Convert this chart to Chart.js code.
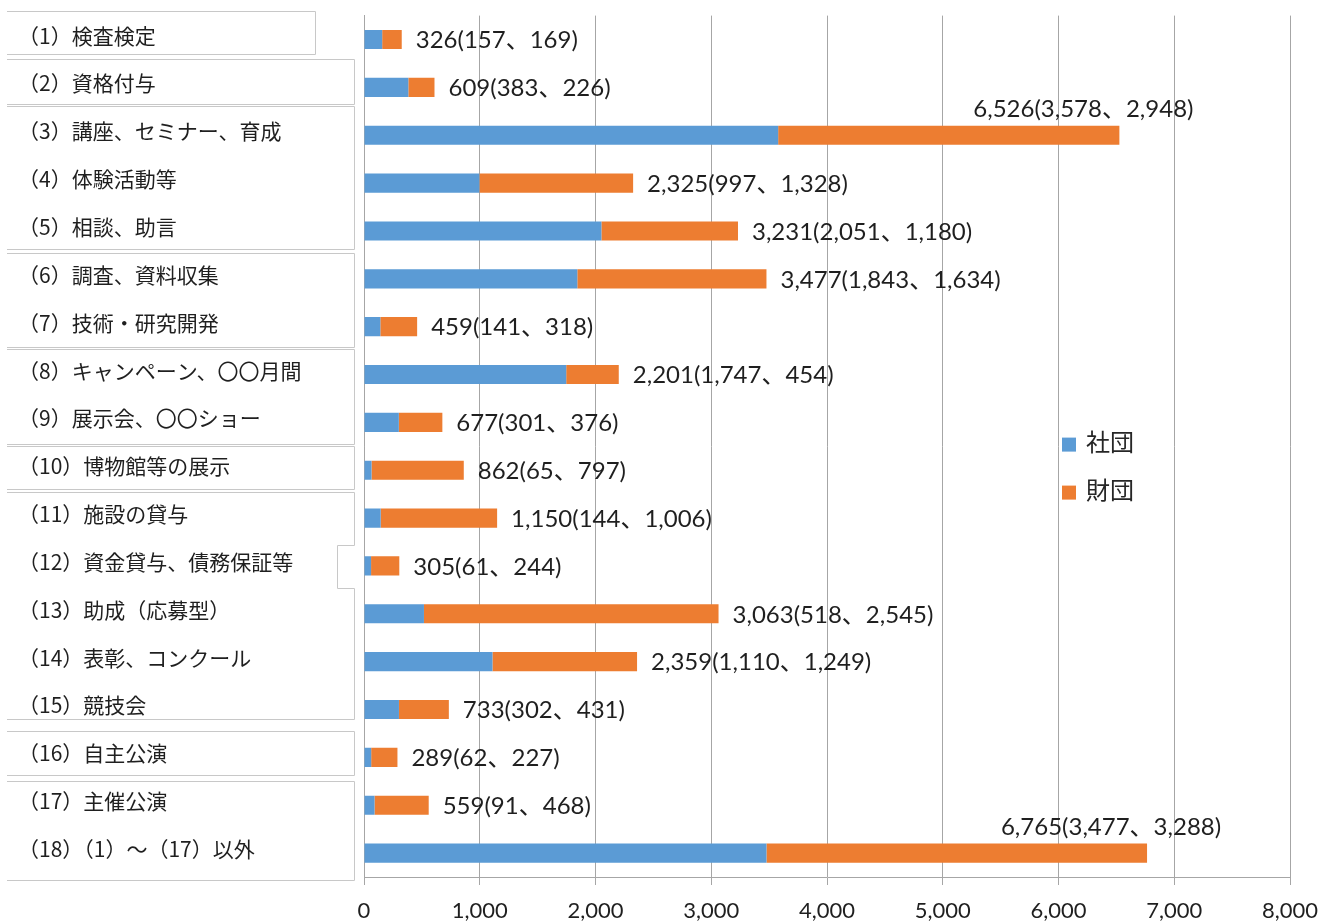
<!DOCTYPE html>
<html lang="ja">
<head>
<meta charset="utf-8">
<title>事業の種類別 公益目的事業数</title>
<script src="https://cdn.jsdelivr.net/npm/chart.js@4.4.1/dist/chart.umd.min.js"></script>
<style>
  html, body { margin: 0; padding: 0; background: #ffffff; }
  #wrap { width: 1334px; height: 924px; position: relative; }
</style>
</head>
<body>
<div id="wrap"><canvas id="chart" width="1334" height="924"></canvas></div>
<script>
// 事業の種類（縦軸の項目）
const categories = [
  '（1）検査検定',
  '（2）資格付与',
  '（3）講座、セミナー、育成',
  '（4）体験活動等',
  '（5）相談、助言',
  '（6）調査、資料収集',
  '（7）技術・研究開発',
  '（8）キャンペーン、〇〇月間',
  '（9）展示会、〇〇ショー',
  '（10）博物館等の展示',
  '（11）施設の貸与',
  '（12）資金貸与、債務保証等',
  '（13）助成（応募型）',
  '（14）表彰、コンクール',
  '（15）競技会',
  '（16）自主公演',
  '（17）主催公演',
  '（18）（1）～（17）以外'
];

// 法人種別ごとの事業数
const seriesNames = ['社団', '財団'];
const shadanValues = [157, 383, 3578, 997, 2051, 1843, 141, 1747, 301, 65, 144, 61, 518, 1110, 302, 62, 91, 3477];
const zaidanValues = [169, 226, 2948, 1328, 1180, 1634, 318, 454, 376, 797, 1006, 244, 2545, 1249, 431, 227, 468, 3288];

// 横軸の目盛
const xTickLabels = ['0', '1,000', '2,000', '3,000', '4,000', '5,000', '6,000', '7,000', '8,000'];

const seriesColors = ['#5B9BD5', '#ED7D31'];
const gridColor = '#a6a6a6';
const textColor = '#1f1f1f';
const jpFont = "'Noto Sans CJK JP', 'Noto Sans', sans-serif";
const numFont = "Lato, 'Noto Sans CJK JP', sans-serif";

const fmt = (n) => n.toLocaleString('en-US');

// 項目名を囲む枠（行のまとまりごと）
const labelFrames = [
  { from: 0,  to: 0,  right: -49, top: -5, bottom: -9 },
  { from: 1,  to: 1,  right: -10, top: -4, bottom: -7 },
  { from: 2,  to: 4,  right: -10, top: -5, bottom: -6 },
  { from: 5,  to: 6,  right: -10, top: -2, bottom: -4 },
  { from: 7,  to: 8,  right: -10, top: -2, bottom: -2 },
  { from: 9,  to: 9,  right: -10, top: 0,  bottom: -5 },
  { from: 10, to: 14, right: -10, top: -2, bottom: -14, notchRow: 11, notchRight: -27 },
  { from: 15, to: 15, right: -10, top: -2, bottom: -6 },
  { from: 16, to: 17, right: -10, top: 0,  bottom: 3 }
];

const labelFramePlugin = {
  id: 'labelFrames',
  beforeDraw(chart) {
    const y = chart.scales.y;
    const ctx = chart.ctx;
    const half = (y.getPixelForValue(1) - y.getPixelForValue(0)) / 2;
    const axisX = y.right;
    const leftX = 7;
    ctx.save();
    ctx.strokeStyle = '#c8c8c8';
    ctx.lineWidth = 1;
    labelFrames.forEach((f) => {
      const top = Math.round(y.getPixelForValue(f.from) - half + f.top) + 0.5;
      const bottom = Math.round(y.getPixelForValue(f.to) + half + f.bottom) + 0.5;
      const rx = Math.round(axisX + f.right) + 0.5;
      ctx.beginPath();
      ctx.moveTo(leftX, top);
      ctx.lineTo(rx, top);
      if (f.notchRow !== undefined) {
        const c = y.getPixelForValue(f.notchRow);
        const nTop = Math.round(c - 21) + 0.5;
        const nBot = Math.round(c + 22) + 0.5;
        const nx = Math.round(axisX + f.notchRight) + 0.5;
        ctx.lineTo(rx, nTop);
        ctx.lineTo(nx, nTop);
        ctx.lineTo(nx, nBot);
        ctx.lineTo(rx, nBot);
      }
      ctx.lineTo(rx, bottom);
      ctx.lineTo(leftX, bottom);
      ctx.stroke();
    });
    ctx.restore();
  }
};

// 合計（社団、財団）の値ラベル
const valueLabelPlugin = {
  id: 'valueLabels',
  afterDatasetsDraw(chart) {
    const ctx = chart.ctx;
    const area = chart.chartArea;
    const meta = chart.getDatasetMeta(1);
    ctx.save();
    ctx.font = '24px ' + numFont;
    ctx.fillStyle = textColor;
    ctx.textBaseline = 'middle';
    ctx.textAlign = 'left';
    meta.data.forEach((bar, i) => {
      const a = shadanValues[i];
      const b = zaidanValues[i];
      const text = fmt(a + b) + '(' + fmt(a) + '、' + fmt(b) + ')';
      const w = ctx.measureText(text).width;
      let x = bar.x + 14;
      let ty = bar.y + 1;
      if (x + w > area.right) {
        x = bar.x - 36 - w / 2;
        ty = bar.y - 26;
      }
      ctx.fillText(text, x, ty);
    });
    ctx.restore();
  }
};

// 凡例（プロット内右側）
const legendPlugin = {
  id: 'insideLegend',
  afterDraw(chart) {
    const ctx = chart.ctx;
    const area = chart.chartArea;
    const x0 = area.right - 228;
    const y0 = area.top + 429;
    ctx.save();
    ctx.font = '24px ' + jpFont;
    ctx.textBaseline = 'middle';
    ctx.textAlign = 'left';
    chart.data.datasets.forEach((ds, i) => {
      const cy = y0 + i * 48;
      ctx.fillStyle = ds.backgroundColor;
      ctx.fillRect(x0, cy - 7, 14, 14);
      ctx.fillStyle = '#262626';
      ctx.fillText(ds.label, x0 + 24, cy - 3);
    });
    ctx.restore();
  }
};

new Chart(document.getElementById('chart'), {
  type: 'bar',
  data: {
    labels: categories,
    datasets: [
      { label: seriesNames[0], data: shadanValues, backgroundColor: seriesColors[0] },
      { label: seriesNames[1], data: zaidanValues, backgroundColor: seriesColors[1] }
    ]
  },
  options: {
    indexAxis: 'y',
    responsive: false,
    animation: false,
    layout: { padding: { left: 18, top: 13, right: 44, bottom: 0 } },
    datasets: {
      bar: { barPercentage: 0.4, categoryPercentage: 1.0, borderWidth: 0 }
    },
    plugins: {
      legend: { display: false },
      tooltip: { enabled: false }
    },
    scales: {
      x: {
        stacked: true,
        min: 0,
        max: 8000,
        ticks: {
          stepSize: 1000,
          autoSkip: false,
          maxRotation: 0,
          padding: 13,
          color: textColor,
          font: { family: numFont, size: 22 },
          callback: (v, i) => xTickLabels[i]
        },
        grid: { color: gridColor, tickColor: gridColor, tickLength: 8, lineWidth: 1 },
        border: { display: true, color: gridColor },
        afterFit(scale) { scale.height = 47; }
      },
      y: {
        stacked: true,
        grid: { display: false },
        border: { display: true, color: gridColor },
        ticks: {
          autoSkip: false,
          crossAlign: 'far',
          labelOffset: -4,
          color: textColor,
          font: { family: jpFont, size: 21 }
        },
        afterFit(scale) { scale.width = 346; }
      }
    }
  },
  plugins: [labelFramePlugin, valueLabelPlugin, legendPlugin]
});
</script>
</body>
</html>
